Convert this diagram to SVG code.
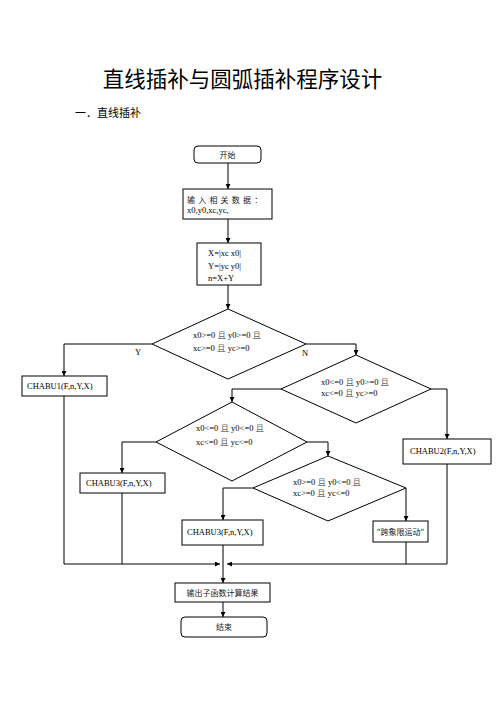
<svg xmlns="http://www.w3.org/2000/svg" width="496" height="702" viewBox="0 0 496 702">
<style>
.b{fill:#fff;stroke:#000;stroke-width:1}
.l{fill:none;stroke:#000;stroke-width:1}
.t{font-family:"Liberation Serif","Noto Sans CJK SC",serif;font-size:8.5px;fill:#000}
.c{font-family:"Noto Sans CJK SC",sans-serif;font-size:8px;fill:#222}
.q{fill:#666}
</style>
<defs>
<marker id="a" viewBox="0 0 10 10" refX="10" refY="5" markerWidth="5" markerHeight="5" orient="auto" markerUnits="userSpaceOnUse">
<path d="M0,0 L10,5 L0,10 z" fill="#000"/>
</marker>
</defs>
<rect width="496" height="702" fill="#fff"/>
<text x="242.5" y="87" text-anchor="middle" font-family="Noto Sans CJK SC, sans-serif" font-size="21.5" fill="#000">直线插补与圆弧插补程序设计</text>
<text x="75" y="117" font-family="Noto Sans CJK SC, sans-serif" font-size="11" fill="#000">一．直线插补</text>

<g id="connectors">
<path class="l" d="M228,163 V189" marker-end="url(#a)"/>
<path class="l" d="M228,219 V243" marker-end="url(#a)"/>
<path class="l" d="M228,285 V309" marker-end="url(#a)"/>
<path class="l" d="M152,344 H64 V376" marker-end="url(#a)"/>
<path class="l" d="M306,344 H356 V355" marker-end="url(#a)"/>
<path class="l" d="M281,389 H232 V402" marker-end="url(#a)"/>
<path class="l" d="M431,389 H447 V439" marker-end="url(#a)"/>
<path class="l" d="M156,442 H122 V473" marker-end="url(#a)"/>
<path class="l" d="M307,442 H328 V456" marker-end="url(#a)"/>
<path class="l" d="M253,488 H223 V520" marker-end="url(#a)"/>
<path class="l" d="M406,488 V521" marker-end="url(#a)"/>
<path class="l" d="M64,396 V564 H220" marker-end="url(#a)"/>
<path class="l" d="M122,493 V564"/>
<path class="l" d="M447,464 V564 H227" marker-end="url(#a)"/>
<path class="l" d="M406,542 V564"/>
<path class="l" d="M223,545 V583" marker-end="url(#a)"/>
<path class="l" d="M223,602 V617" marker-end="url(#a)"/>
<text class="t" x="138" y="355" text-anchor="middle">Y</text>
<text class="t" x="305" y="356" text-anchor="middle">N</text>
</g>

<g id="start">
<rect class="b" x="194" y="146" width="67" height="17" rx="4"/>
<text class="c" x="227.5" y="157.5" text-anchor="middle">开始</text>
</g>
<g id="input">
<rect class="b" x="183" y="189" width="89" height="30"/>
<text class="c" x="187" y="203" letter-spacing="3.2">输入相关数据：</text>
<text class="t" x="187" y="213">x0,y0,xc,yc,</text>
</g>
<g id="calc">
<rect class="b" x="197" y="243" width="64" height="42"/>
<text class="t" x="208" y="256">X=|xc x0|</text>
<text class="t" x="208" y="269">Y=|yc y0|</text>
<text class="t" x="208" y="281">n=X+Y</text>
</g>
<g id="d1">
<polygon class="b" points="228,309 306,344 228,379 152,344"/>
<text class="t" x="193" y="338">x0&gt;=0 <tspan class="q">且</tspan> y0&gt;=0 <tspan class="q">且</tspan></text>
<text class="t" x="193" y="351">xc&gt;=0 <tspan class="q">且</tspan> yc&gt;=0</text>
</g>
<g id="chabu1">
<rect class="b" x="22" y="376" width="85" height="20"/>
<text class="t" x="27" y="389">CHABU1(F,n,Y,X)</text>
</g>
<g id="d2">
<polygon class="b" points="356,355 431,389 356,423 281,389"/>
<text class="t" x="321" y="385">x0&lt;=0 <tspan class="q">且</tspan> y0&gt;=0 <tspan class="q">且</tspan></text>
<text class="t" x="321" y="396">xc&lt;=0 <tspan class="q">且</tspan> yc&gt;=0</text>
</g>
<g id="chabu2">
<rect class="b" x="403" y="439" width="88" height="25"/>
<text class="t" x="410" y="454">CHABU2(F,n,Y,X)</text>
</g>
<g id="d3">
<polygon class="b" points="232,402 307,442 232,481 156,442"/>
<text class="t" x="196" y="431">x0&lt;=0 <tspan class="q">且</tspan> y0&lt;=0 <tspan class="q">且</tspan></text>
<text class="t" x="196" y="445">xc&lt;=0 <tspan class="q">且</tspan> yc&lt;=0</text>
</g>
<g id="chabu3a">
<rect class="b" x="80" y="473" width="85" height="20"/>
<text class="t" x="86" y="486">CHABU3(F,n,Y,X)</text>
</g>
<g id="d4">
<polygon class="b" points="328,456 406,488 328,521 253,488"/>
<text class="t" x="293" y="485">x0&gt;=0 <tspan class="q">且</tspan> y0&lt;=0 <tspan class="q">且</tspan></text>
<text class="t" x="293" y="496">xc&gt;=0 <tspan class="q">且</tspan> yc&lt;=0</text>
</g>
<g id="chabu3b">
<rect class="b" x="182" y="520" width="81" height="25"/>
<text class="t" x="187" y="535">CHABU3(F,n,Y,X)</text>
</g>
<g id="cross">
<rect class="b" x="373" y="521" width="55" height="21"/>
<text class="c" x="400.5" y="534.5" text-anchor="middle">"跨象限运动"</text>
</g>
<g id="output">
<rect class="b" x="175" y="583" width="95" height="19"/>
<text class="c" x="222.5" y="595.5" text-anchor="middle">输出子函数计算结果</text>
</g>
<g id="end">
<rect class="b" x="181" y="617" width="86" height="20" rx="4"/>
<text class="c" x="224" y="630" text-anchor="middle">结束</text>
</g>
</svg>
